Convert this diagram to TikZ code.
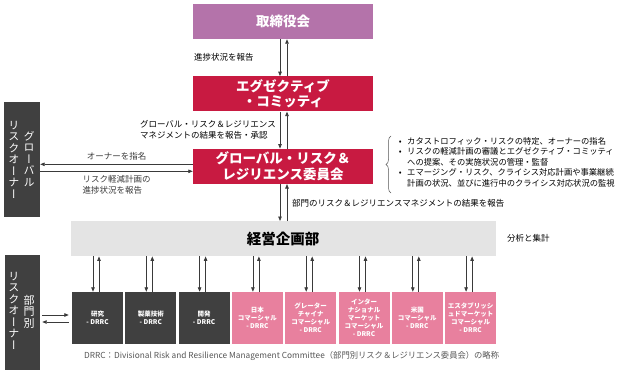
\documentclass[tikz,border=0pt]{standalone}
\usepackage{fontspec}
\setmainfont{Noto Sans CJK JP}
\newfontfamily\vertjp[Vertical=Alternates]{Noto Sans CJK JP}
\usetikzlibrary{arrows.meta,positioning,calc,decorations.pathreplacing}
\definecolor{boardpurple}{HTML}{B473AA}
\definecolor{riskred}{HTML}{C81A41}
\definecolor{divpink}{HTML}{E8809E}
\definecolor{ownergray}{HTML}{404040}
\definecolor{plangray}{HTML}{E4E4E4}
\definecolor{linegray}{HTML}{3A3A3A}
\definecolor{notegray}{HTML}{555555}

\begin{document}
\begin{tikzpicture}[x=1pt, y=-1pt,
  topbox/.style={minimum width=180pt, minimum height=35pt, inner sep=0pt, align=center, text=white, font=\fontsize{13.5}{15.5}\selectfont\bfseries},
  divbox/.style={minimum width=51pt, minimum height=52pt, inner sep=0pt, align=center, text=white, font=\fontsize{6.5}{8}\selectfont\bfseries},
  ownerbox/.style={fill=ownergray, minimum width=36pt, minimum height=115pt, inner sep=0pt},
  vcol/.style={anchor=north, inner sep=0pt, align=center, text=white, font=\vertjp\fontsize{11}{11.5}\selectfont},
  arr/.style={-{Triangle[length=4.5pt,width=3.5pt]}, line width=0.8pt, color=linegray},
  lbl/.style={font=\fontsize{8.5}{10.5}\selectfont, inner sep=0pt, align=left}
]
\useasboundingbox (0,0) rectangle (628,378);

% top chain
\node[topbox, fill=boardpurple] (board) at (283,21.5) {取締役会};
\node[topbox, fill=riskred, below=37pt of board] (exec) {エグゼクティブ\\・コミッティ};
\node[topbox, fill=riskred, below=37pt of exec] (grrc) {グローバル・リスク＆\\レジリエンス委員会};
\node[below=37pt of grrc, minimum width=425pt, minimum height=35pt, inner sep=0pt, fill=plangray, font=\fontsize{14.5}{16}\selectfont\bfseries] (plan) {経営企画部};

\draw[arr] ([xshift=-3pt]board.south) -- ([xshift=-3pt]exec.north);
\draw[arr] ([xshift=4pt]exec.north) -- ([xshift=4pt]board.south);
\draw[arr] ([xshift=-3pt]exec.south) -- ([xshift=-3pt]grrc.north);
\draw[arr] ([xshift=4pt]grrc.north) -- ([xshift=4pt]exec.south);
\draw[arr] ([xshift=-3pt]grrc.south) -- ([xshift=-3pt]plan.north);
\draw[arr] ([xshift=4pt]plan.north) -- ([xshift=4pt]grrc.south);

\node[lbl, anchor=west] (lblboard) at (194,57) {進捗状況を報告};
\node[lbl, anchor=east] (lblexec) at (276,130) {グローバル・リスク＆レジリエンス\\マネジメントの結果を報告・承認};
\node[lbl, anchor=west] (lblplan) at (292,203) {部門のリスク＆レジリエンスマネジメントの結果を報告};
\node[lbl, anchor=west] (lblsum) at (507,238) {分析と集計};

% global risk owner
\node[ownerbox] (gowner) at (22,159.5) {};
\node[vcol] (gcolr) at (29,131) {グ\\ロ\\ー\\バ\\ル};
\node[vcol] (gcoll) at (14,121) {リ\\ス\\ク\\オ\\ー\\ナ\\ー};
\draw[arr] ([yshift=2pt]grrc.west) -- ([yshift=2pt]grrc.west -| gowner.east) node[pos=0.5, above=4pt, lbl] {オーナーを指名};
\draw[arr] ([yshift=-5pt]grrc.west -| gowner.east) -- ([yshift=-5pt]grrc.west) node[pos=0.5, below=4pt, lbl] {リスク軽減計画の\\進捗状況を報告};

% brace and duties
\draw[line width=0.5pt, color=notegray, decorate, decoration={brace, amplitude=5pt}] (391,193) -- (391,136);
\node[lbl, anchor=north west, font=\fontsize{8.3}{10.5}\selectfont] (duties) at (393,137) {%
\makebox[14pt][c]{•}カタストロフィック・リスクの特定、オーナーの指名\\
\makebox[14pt][c]{•}リスクの軽減計画の審議とエグゼクティブ・コミッティ\\
\hspace*{14pt}への提案、その実施状況の管理・監督\\
\makebox[14pt][c]{•}エマージング・リスク、クライシス対応計画や事業継続\\
\hspace*{14pt}計画の状況、並びに進行中のクライシス対応状況の監視};

% divisional committees
\foreach \i/\col/\txt in {1/ownergray/研究\\- DRRC, 2/ownergray/製薬技術\\- DRRC, 3/ownergray/開発\\- DRRC,
  4/divpink/日本\\コマーシャル\\- DRRC, 5/divpink/グレーター\\チャイナ\\コマーシャル\\- DRRC,
  6/divpink/インター\\ナショナル\\マーケット\\コマーシャル\\- DRRC, 7/divpink/米国\\コマーシャル\\- DRRC,
  8/divpink/エスタブリッシ\\ュドマーケット\\コマーシャル\\- DRRC} {
  \node[divbox, fill=\col] (div\i) at ({97.5+53.3*(\i-1)},318) {\txt};
  \draw[arr] ([xshift=-4.5pt]div\i.north |- plan.south) -- ([xshift=-4.5pt]div\i.north);
  \draw[arr] ([xshift=1.5pt]div\i.north) -- ([xshift=1.5pt]div\i.north |- plan.south);
}

% divisional risk owner
\node[ownerbox, minimum width=35pt] (downer) at (22.5,312.5) {};
\node[vcol] (dcolr) at (29,295) {部\\門\\別};
\node[vcol] (dcoll) at (14,272) {リ\\ス\\ク\\オ\\ー\\ナ\\ー};
\draw[arr, shorten <=2pt, shorten >=3pt] ([yshift=3pt]div1.west -| downer.east) -- ([yshift=3pt]div1.west);
\draw[arr, shorten <=3pt, shorten >=2pt] ([yshift=-4pt]div1.west) -- ([yshift=-4pt]div1.west -| downer.east);

\node[font=\fontsize{8.3}{10}\selectfont, text=notegray, anchor=west, inner sep=0pt] (note) at (84,356) {DRRC：Divisional Risk and Resilience Management Committee（部門別リスク＆レジリエンス委員会）の略称};
\end{tikzpicture}
\end{document}
